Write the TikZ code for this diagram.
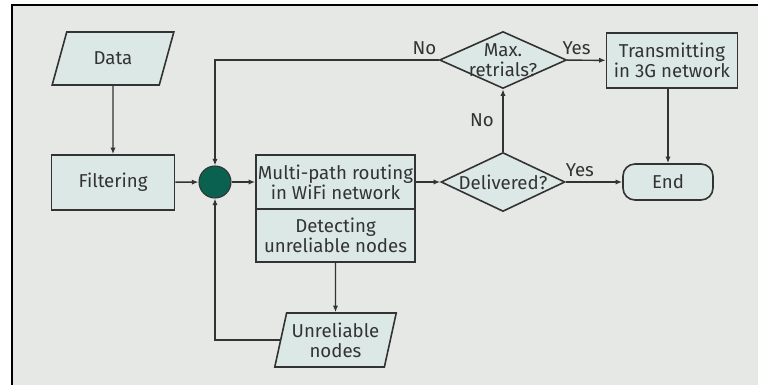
\documentclass[tikz,border=0pt]{standalone}
\usepackage{fontspec}
\setmainfont{Fira Sans}
\usetikzlibrary{shapes.geometric,arrows.meta}
\definecolor{bgray}{HTML}{E6E8E6}
\definecolor{boxfill}{HTML}{DCE8E5}
\definecolor{edge}{HTML}{333333}
\definecolor{hub}{HTML}{0B6150}

\tikzset{
  box/.style={draw=edge,fill=boxfill,line width=1.2pt,align=center,inner sep=0pt},
  io/.style={box,trapezium,trapezium stretches=true},
  test/.style={box,diamond},
  arr/.style={draw=edge,line width=1.1pt,-{Latex[length=5pt,width=4pt]}},
}

\begin{document}
\begin{tikzpicture}[x=0.75pt,y=-0.75pt,font=\fontsize{14}{15}\selectfont,text=edge]
\useasboundingbox (0,0) rectangle (758,385);
\fill[bgray] (12,5) rectangle (758,385);
\draw[line width=2.2pt] (12,385) -- (12,5) -- (758,5);

% left column
\node[io,trapezium left angle=65,trapezium right angle=115,minimum width=91.5pt,minimum height=39.75pt] (data) at (113,58.5) {Data};
\node[box,minimum width=92.25pt,minimum height=41.25pt] (filt) at (113,182.5) {Filtering};
\node[circle,draw=edge,fill=hub,line width=0.8pt,minimum size=24pt,inner sep=0pt] (hub) at (215,182) {};

% routing and detection
\node[box,minimum width=119.25pt,minimum height=40.5pt] (route) at (335.5,182) {Multi-path routing\\in WiFi network};
\node[box,minimum width=119.25pt,minimum height=39.75pt] (detect) at (335.5,235.5) {Detecting\\unreliable nodes};
\node[io,trapezium left angle=73,trapezium right angle=107,minimum width=91.5pt,minimum height=40.5pt] (unrel) at (335.5,340) {Unreliable\\nodes};

% decisions
\node[test,minimum width=93pt,minimum height=44.25pt,label={center:Delivered?}] (deliv) at (503,182) {};
\node[test,minimum width=95.25pt,minimum height=42.75pt,label={[align=center]center:Max.\\retrials?}] (maxr) at (503,60) {};
\node[box,minimum width=98.25pt,minimum height=41.25pt] (trans) at (672,60.5) {Transmitting\\in 3G network};
\node[box,rounded corners=9pt,minimum width=67.5pt,minimum height=27pt] (end) at (668,182) {End};

\draw[arr] (data) -- (filt);
\draw[arr] (filt) -- (hub);
\draw[arr] (hub) -- (route);
\draw[arr] (route) -- (deliv);
\draw[arr] (deliv) -- node[left=3pt] {No} (maxr);
\draw[arr] (deliv) -- node[above,pos=0.25] {Yes} (end);
\draw[arr] (maxr) -- node[above,pos=0.25] {Yes} (trans);
\draw[arr] (maxr) -| node[above left,pos=0,xshift=2pt] {No} (hub);
\draw[arr] (detect) -- (unrel);
\draw[arr] (unrel) -| (hub);
\draw[arr] (end.north |- trans.south) -- (end);
\end{tikzpicture}
\end{document}
